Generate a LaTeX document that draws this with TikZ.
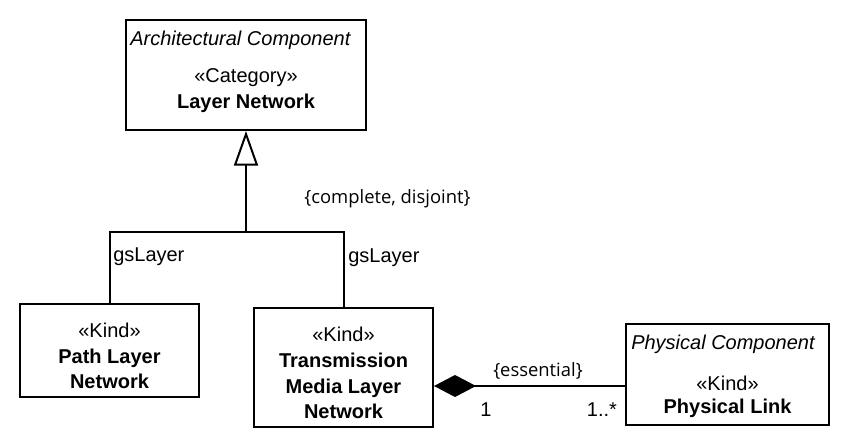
\documentclass[tikz,border=0pt]{standalone}
\usepackage{fontspec}
\setmainfont{Liberation Sans}
\newfontfamily\cstrfont{Open Sans}
\usetikzlibrary{arrows.meta}
\begin{document}
\begin{tikzpicture}[x=0.75pt,y=-0.75pt,
  box/.style={draw,line width=1.5pt,inner sep=0pt,fill=white},
  txt/.style={inner sep=0pt,font=\fontsize{15}{18}\selectfont},
  cstr/.style={inner sep=0pt,font=\cstrfont\fontsize{13.8}{16}\selectfont},
  conn/.style={line width=1.5pt},
]
\useasboundingbox (0,0) rectangle (850,448);
% boxes
\node (ln) [box,minimum width=180pt,minimum height=82.5pt] at (246,75) {};
\node (pl) [box,minimum width=134.25pt,minimum height=69.75pt] at (109.5,350.5) {};
\node (tm) [box,minimum width=134.25pt,minimum height=89.25pt] at (343.5,367.5) {};
\node (pk) [box,minimum width=152.25pt,minimum height=75.75pt] at (727.5,374.5) {};
% texts
\node (lnA) [txt,anchor=west] at (130,40) {\itshape Architectural Component};
\node (lnS) [txt] at (246,78) {«Category»};
\node (lnN) [txt] at (246,103) {\bfseries Layer Network};
\node (plS) [txt] at (109.5,330) {«Kind»};
\node (plN) [txt,align=center] at (109.5,369) {\bfseries Path Layer\\[1pt]\bfseries Network};
\node (tmS) [txt] at (343.5,334) {«Kind»};
\node (tmN) [txt,align=center] at (343.5,386) {\bfseries Transmission\\[1pt]\bfseries Media Layer\\[1pt]\bfseries Network};
\node (pkA) [txt,anchor=west] at (631,344) {\itshape Physical Component};
\node (pkS) [txt] at (727.5,383) {«Kind»};
\node (pkN) [txt] at (727.5,408) {\bfseries Physical Link};
% generalization
\coordinate (gen) at (246,232);
\draw[conn,line join=miter] (pl.north) -- (pl.north |- gen) -- (tm.north |- gen) -- (tm.north);
\draw[conn,-{Triangle[open,length=26pt,width=18pt,line width=1.5pt,fill=white]}] (gen) -- (ln.south);
\node (gs1) [txt,anchor=west] at (113,257) {gsLayer};
\node (gs2) [txt,anchor=west] at (348,258) {gsLayer};
\node (cd) [cstr] at (387.5,199) {\{complete, disjoint\}};
% composition
\draw[conn,{Diamond[length=31.5pt,width=16.5pt]}-] ([yshift=-13.875pt]tm.east) -- ([yshift=-8.625pt]pk.west);
\node (ess) [cstr] at (538,371) {\{essential\}};
\node (m1) [txt] at (486,410) {1};
\node (m2) [txt] at (602,410) {1..*};
\end{tikzpicture}
\end{document}
